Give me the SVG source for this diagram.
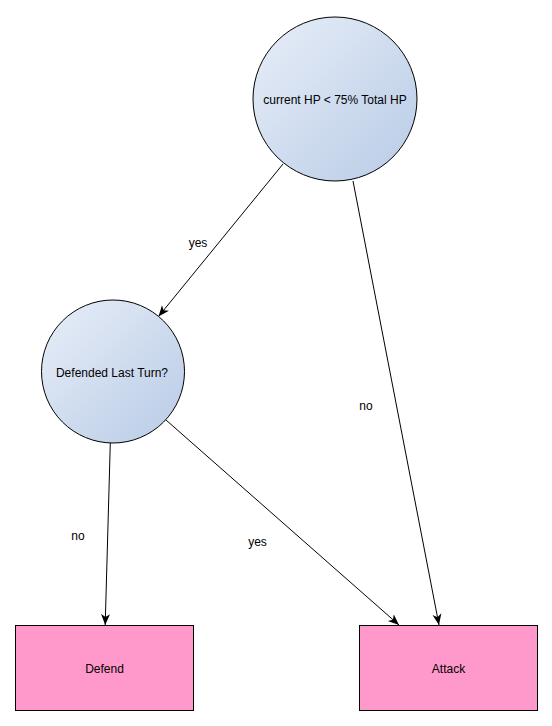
<svg xmlns="http://www.w3.org/2000/svg" width="552" height="726" viewBox="0 0 552 726">
<style>
text{font-family:"Liberation Sans",Arial,sans-serif;font-size:12px;fill:#000;text-anchor:middle;dominant-baseline:central}
.node{stroke:#000;stroke-width:1}
.circ{fill:url(#g)}
.rect{fill:#ff99cc}
.edge{stroke:#000;stroke-width:1;fill:none;marker-end:url(#arr)}
</style>
<defs>
<linearGradient id="g" x1="0" y1="0" x2="1" y2="1">
<stop offset="0" stop-color="#e8eef8"/>
<stop offset="1" stop-color="#b8cbe6"/>
</linearGradient>
<marker id="arr" markerUnits="userSpaceOnUse" markerWidth="12" markerHeight="10" refX="11" refY="4.5" orient="auto" viewBox="0 0 12 9">
<path d="M0,0 L11,4.5 L0,9 L3,4.5 Z" fill="#000"/>
</marker>
</defs>
<rect width="552" height="726" fill="#fff"/>
<g id="connectors">
<line class="edge" x1="283" y1="164" x2="158.5" y2="316.5"/>
<line class="edge" x1="353" y1="181" x2="439" y2="625"/>
<line class="edge" x1="110.3" y1="443" x2="105.2" y2="625"/>
<line class="edge" x1="166" y1="420" x2="399" y2="625"/>
<text x="198" y="243">yes</text>
<text x="366" y="406">no</text>
<text x="78" y="535.5">no</text>
<text x="257.5" y="541.5">yes</text>
</g>
<g id="n1">
<circle class="node circ" cx="335" cy="99" r="82"/>
<text x="335" y="100">current HP &lt; 75% Total HP</text>
</g>
<g id="n2">
<circle class="node circ" cx="113" cy="371.5" r="71.5"/>
<text x="112" y="373">Defended Last Turn?</text>
</g>
<g id="n3">
<rect class="node rect" x="15.5" y="625.5" width="178" height="85"/>
<text x="104.5" y="669">Defend</text>
</g>
<g id="n4">
<rect class="node rect" x="359.5" y="625.5" width="178" height="85"/>
<text x="448.5" y="669">Attack</text>
</g>
</svg>
